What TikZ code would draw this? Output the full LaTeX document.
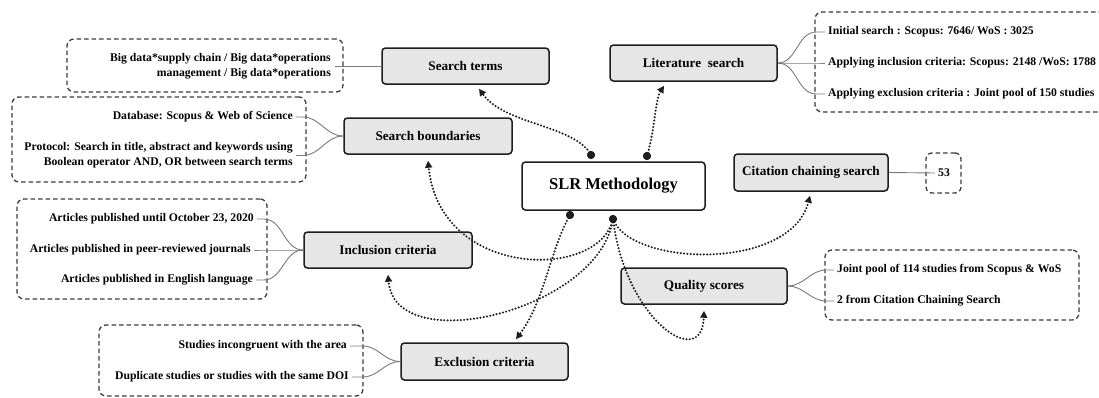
\documentclass[tikz,border=0pt]{standalone}
\usepackage{fontspec}
\setmainfont{Liberation Serif}
\usetikzlibrary{arrows.meta,calc}
\definecolor{boxfill}{HTML}{E6E6E6}
\definecolor{edgec}{HTML}{1E1E1E}
\definecolor{dashc}{HTML}{3C3C3C}
\definecolor{forkc}{HTML}{7A7A7A}
\begin{document}
\begin{tikzpicture}[x=1pt,y=-1pt,
 mainbox/.style={draw=edgec, line width=1.5pt, rounded corners=3.5pt, fill=boxfill, inner sep=0pt, minimum width=167pt, minimum height=36pt, font=\fontsize{13.2}{15}\selectfont\bfseries, text=black},
 detbox/.style={draw=dashc, line width=1.3pt, dash pattern=on 4.5pt off 3pt, rounded corners=7pt, inner sep=0pt},
 dettext/.style={inner sep=0pt, font=\fontsize{11.7}{15}\selectfont\bfseries, text=black},
 fork/.style={draw=forkc, line width=0.9pt},
 startdot/.style={circle, fill=edgec, inner sep=0pt, minimum size=8pt},
 flow/.style={draw=edgec, line width=2.3pt, dash pattern=on 0pt off 3.3pt, line cap=round, -{Triangle[length=7pt,width=7pt]}},
]
\useasboundingbox (0,0) rectangle (1099,397);
\fill[white] (0,0) rectangle (1099,397);
\clip (0,0) rectangle (1099,397);

% main nodes
\node[mainbox, fill=white, minimum width=183pt, minimum height=48pt, font=\fontsize{16.5}{18}\selectfont\bfseries] (slr) at (613.5,186) {SLR Methodology};
\node[mainbox] (st) at (465.5,66) {Search terms};
\node[mainbox] (ls) at (693.5,63) {Literature~ search};
\node[mainbox, minimum width=168pt] (sb) at (428,136) {Search boundaries};
\node[mainbox, minimum width=168pt] (ic) at (388,250) {Inclusion criteria};
\node[mainbox, minimum height=37pt] (ec) at (484.5,361.5) {Exclusion criteria};
\node[mainbox, minimum width=166pt] (qs) at (704,286) {Quality scores};
\node[mainbox, minimum width=154pt, minimum height=37pt] (cc) at (811,172.5) {Citation chaining search};

% dashed detail boxes
\node[detbox, minimum width=276pt, minimum height=53pt] (stb) at (205,65.5) {};
\node[detbox, minimum width=294pt, minimum height=85pt] (sbb) at (159,139.5) {};
\node[detbox, minimum width=295pt, minimum height=100pt] (lsb) at (962.5,62) {};
\node[detbox, minimum width=35pt, minimum height=40pt, rounded corners=6pt] (ccb) at (943.5,173) {};
\node[detbox, minimum width=250pt, minimum height=100pt] (icb) at (142,249) {};
\node[detbox, minimum width=264pt, minimum height=71pt] (ecb) at (231,360.5) {};
\node[detbox, minimum width=254pt, minimum height=70pt] (qsb) at (952,285) {};

% detail texts
\node[dettext, anchor=east, align=right] (st1) at (331,66) {Big data*supply chain / Big data*operations\\management / Big data*operations};
\node[dettext, anchor=east] (sb1) at (293,117) {Database: Scopus \& Web of Science};
\node[dettext, anchor=east, align=right] (sb2) at (293,155.5) {Protocol: Search in title, abstract and keywords using\\Boolean operator AND, OR between search terms};
\node[dettext, anchor=west] (ls1) at (828,32) {Initial search : Scopus: 7646/ WoS : 3025};
\node[dettext, anchor=west] (ls2) at (828,63) {Applying inclusion criteria: Scopus: 2148 /WoS: 1788};
\node[dettext, anchor=west] (ls3) at (828,94) {Applying exclusion criteria : Joint pool of 150 studies};
\node[dettext] (n53) at (944,173) {53};
\node[dettext, anchor=east] (ic1) at (254,219) {Articles published until October 23, 2020};
\node[dettext, anchor=east] (ic2) at (251,250) {Articles published in peer-reviewed journals};
\node[dettext, anchor=east] (ic3) at (253,280) {Articles published in English language};
\node[dettext, anchor=east] (ec1) at (347,346) {Studies incongruent with the area};
\node[dettext, anchor=east] (ec2) at (349,377) {Duplicate studies or studies with the same DOI};
\node[dettext, anchor=west] (qs1) at (837,270) {Joint pool of 114 studies from Scopus \& WoS};
\node[dettext, anchor=west] (qs2) at (837,301) {2 from Citation Chaining Search};

% forks
\draw[fork] (st.west) -- ($(st1.east)+(4,0)$);
\foreach \t in {sb1,sb2}
  \draw[fork] (sb.west) to[out=180,in=0] ($(\t.east -| sbb.east)+(-4,0)$) -- ($(\t.east)+(3,0)$);
\foreach \t in {ls1,ls2,ls3}
  \draw[fork] (ls.east) to[out=0,in=180] ($(\t.west -| lsb.west)+(2,0)$) -- ($(\t.west)+(-3,0)$);
\draw[fork] (cc.east) -- ($(n53.west)+(-3,0)$);
\foreach \t in {ic1,ic2,ic3}
  \draw[fork] (ic.west) to[out=180,in=0] ($(\t.east -| icb.east)+(-4,0)$) -- ($(\t.east)+(3,0)$);
\foreach \t in {ec1,ec2}
  \draw[fork] (ec.west) to[out=180,in=0] ($(\t.east -| ecb.east)+(-1,0)$) -- ($(\t.east)+(3,0)$);
\foreach \t in {qs1,qs2}
  \draw[fork] (qs.east) to[out=0,in=180] ($(\t.west -| qsb.west)+(2,0)$) -- ($(\t.west)+(-3,0)$);

% start dots
\node[startdot] (d1) at (591,155) {};
\node[startdot] (d2) at (647,156) {};
\node[startdot] (d3) at (570,215) {};
\node[startdot] (d4) at (613,219) {};

% dotted arrows
\draw[flow] (d1.center) .. controls (575,125) and (505,125) .. ($(st.south)+(13.5,4)$);
\draw[flow] (d2.center) .. controls (655,130) and (655,100) .. ($(ls.south)+(-29.5,4)$);
\draw[flow] (d4.center) .. controls (600,280) and (440,280) .. ($(sb.south)+(0,6)$);
\draw[flow] (d4.center) .. controls (600,310) and (395,360) .. ($(ic.south)+(0,6)$);
\draw[flow] (d3.center) .. controls (550,250) and (545,300) .. ($(ec.north)+(31.5,-3)$);
\draw[flow] (d4.center) .. controls (625,320) and (702,372) .. ($(qs.south)+(0,6)$);
\draw[flow] (d4.center) .. controls (630,266) and (790,272) .. ($(cc.south)+(-1,4)$);

% dots on top
\fill[edgec] (d1) circle (4pt) (d2) circle (4pt) (d3) circle (4pt) (d4) circle (4pt);
\end{tikzpicture}
\end{document}
